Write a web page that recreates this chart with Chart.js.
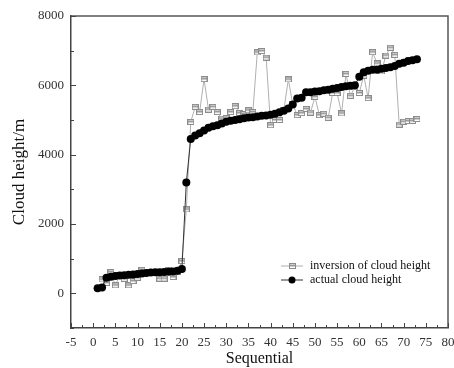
<!DOCTYPE html>
<html>
<head>
<meta charset="utf-8">
<script src="https://cdn.jsdelivr.net/npm/chart.js@4.4.0/dist/chart.umd.min.js"></script>
<style>
  html, body { margin: 0; padding: 0; background: #fff; }
</style>
</head>
<body>
<canvas id="c" width="454" height="368"></canvas>
<script>
// sequence numbers on the x axis
const sequential = [1,2,3,4,5,6,7,8,9,10,11,12,13,14,15,16,17,18,19,20,
  21,22,23,24,25,26,27,28,29,30,31,32,33,34,35,36,37,38,39,40,
  41,42,43,44,45,46,47,48,49,50,51,52,53,54,55,56,57,58,59,60,
  61,62,63,64,65,66,67,68,69,70,71,72,73];

// cloud height from inversion (m), no value at the first point
const inversionHeight = [null,400,300,615,230,520,420,230,355,450,680,600,610,600,425,425,665,470,620,930,
  2420,4945,5380,5230,6180,5300,5380,5230,5040,5050,5230,5400,5200,5170,5280,5230,6950,6990,6800,4850,
  5000,5000,5300,6170,5450,5140,5200,5320,5215,5670,5140,5180,5065,5780,5780,5190,6330,5700,5950,5780,
  6280,5630,6955,6630,6400,6860,7085,6880,4870,4950,4970,4975,5030];

// actual cloud height (m)
const actualHeight = [150,170,450,480,500,515,525,535,545,560,575,590,600,605,610,615,620,630,650,700,
  3200,4450,4550,4620,4700,4780,4820,4850,4900,4950,4980,5000,5020,5050,5070,5080,5100,5120,5130,5150,
  5180,5220,5270,5330,5450,5620,5640,5800,5800,5820,5830,5860,5870,5900,5920,5950,5970,5990,6000,6250,
  6380,6420,6450,6450,6480,6500,6520,6560,6620,6650,6700,6720,6750];

const xTicks = [-5,0,5,10,15,20,25,30,35,40,45,50,55,60,65,70,75,80];
const yTicks = [0,2000,4000,6000,8000];

const serif = "'Liberation Serif', 'DejaVu Serif', serif";

// small grey box marker like the original plot
function boxMark() {
  const c = document.createElement('canvas');
  c.width = 7; c.height = 6;
  const g = c.getContext('2d');
  g.fillStyle = '#fff';
  g.fillRect(0, 0, 7, 6);
  g.strokeStyle = '#8c8c8c';
  g.lineWidth = 1;
  g.strokeRect(0.5, 0.5, 6, 5);
  g.fillStyle = '#999';
  g.fillRect(1, 1.5, 5, 2);
  return c;
}
const box = boxMark();

// frame on top/right plus inward tick marks
const frameTicks = {
  id: 'frameTicks',
  afterDraw(chart) {
    const ctx = chart.ctx, a = chart.chartArea;
    const xs = chart.scales.x, ys = chart.scales.y;
    ctx.save();
    ctx.strokeStyle = '#555';
    ctx.lineWidth = 1.5;
    ctx.beginPath();
    ctx.moveTo(a.left, a.top); ctx.lineTo(a.right, a.top); ctx.lineTo(a.right, a.bottom);
    ctx.stroke();
    ctx.lineWidth = 1;
    ctx.strokeStyle = '#444';
    ctx.beginPath();
    for (let v = -5; v <= 80; v += 2.5) {
      const px = Math.round(xs.getPixelForValue(v)) + 0.5;
      const len = v % 5 === 0 ? 5 : 3;
      ctx.moveTo(px, a.bottom); ctx.lineTo(px, a.bottom - len);
    }
    for (let v = -1000; v <= 8000; v += 1000) {
      const py = Math.round(ys.getPixelForValue(v)) + 0.5;
      const len = v % 2000 === 0 ? 5 : 3;
      ctx.moveTo(a.left, py); ctx.lineTo(a.left + len, py);
    }
    ctx.stroke();
    ctx.restore();
  }
};

// legend drawn inside the plot, lower right
const insideLegend = {
  id: 'insideLegend',
  afterDatasetsDraw(chart) {
    const ctx = chart.ctx, a = chart.chartArea;
    const x0 = a.left + 210, y0 = a.top + 250;
    ctx.save();
    ctx.font = '12px ' + serif;
    ctx.textBaseline = 'middle';
    ctx.fillStyle = '#111';
    // inversion row
    ctx.strokeStyle = '#b0b0b0';
    ctx.lineWidth = 1;
    ctx.beginPath(); ctx.moveTo(x0, y0); ctx.lineTo(x0 + 22, y0); ctx.stroke();
    ctx.drawImage(box, x0 + 8, y0 - 3);
    ctx.fillText('inversion of cloud height', x0 + 29, y0);
    // actual row
    const y1 = y0 + 14;
    ctx.strokeStyle = '#333';
    ctx.beginPath(); ctx.moveTo(x0, y1); ctx.lineTo(x0 + 22, y1); ctx.stroke();
    ctx.fillStyle = '#000';
    ctx.beginPath(); ctx.arc(x0 + 11, y1, 3.5, 0, Math.PI * 2); ctx.fill();
    ctx.fillStyle = '#111';
    ctx.fillText('actual cloud height', x0 + 29, y1);
    ctx.restore();
  }
};

const chart = new Chart(document.getElementById('c'), {
  type: 'line',
  data: {
    datasets: [
      {
        label: 'inversion of cloud height',
        data: sequential.map((s, i) => ({ x: s, y: inversionHeight[i] })),
        borderColor: '#b0b0b0',
        borderWidth: 1,
        pointStyle: box,
        pointRadius: 3,
        spanGaps: false,
        order: 1
      },
      {
        label: 'actual cloud height',
        data: sequential.map((s, i) => ({ x: s, y: actualHeight[i] })),
        borderColor: '#333',
        borderWidth: 1,
        backgroundColor: '#000',
        pointBackgroundColor: '#000',
        pointBorderColor: '#000',
        pointBorderWidth: 0,
        pointRadius: 4,
        order: 0
      }
    ]
  },
  options: {
    responsive: false,
    animation: false,
    devicePixelRatio: 1,
    layout: { padding: { left: 0, right: 6, top: 16, bottom: 0 } },
    plugins: { legend: { display: false }, tooltip: { enabled: false } },
    scales: {
      x: {
        type: 'linear',
        min: -5, max: 80,
        afterBuildTicks: s => { s.ticks = xTicks.map(v => ({ value: v })); },
        ticks: { font: { family: serif, size: 13 }, color: '#333', padding: 7, maxRotation: 0, autoSkip: false,
                 callback: v => String(v) },
        grid: { drawOnChartArea: false, drawTicks: false },
        border: { color: '#444', width: 1.5 },
        title: { display: true, text: 'Sequential', font: { family: serif, size: 16 }, color: '#111', padding: { top: 0, bottom: 0 } },
        afterFit: s => { s.height = 40; s.paddingLeft = 0; s.paddingRight = 0; }
      },
      y: {
        type: 'linear',
        min: -1000, max: 8000,
        afterBuildTicks: s => { s.ticks = yTicks.map(v => ({ value: v })); },
        ticks: { font: { family: serif, size: 13 }, color: '#333', padding: 7, callback: v => String(v) },
        grid: { drawOnChartArea: false, drawTicks: false },
        border: { color: '#444', width: 1.5 },
        title: { display: true, text: 'Cloud height/m', font: { family: serif, size: 17 }, color: '#111', padding: { top: 9, bottom: 0 } },
        afterFit: s => { s.width = 71; s.paddingTop = 0; s.paddingBottom = 0; }
      }
    }
  },
  plugins: [frameTicks, insideLegend]
});
</script>
</body>
</html>
